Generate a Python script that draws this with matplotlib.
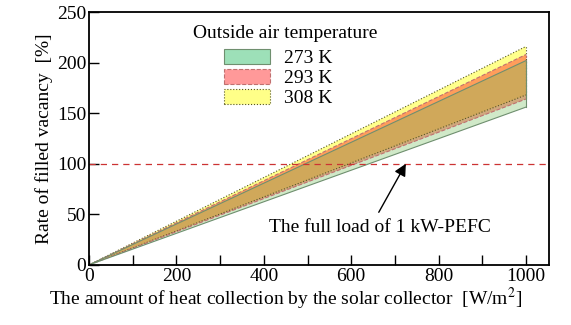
import matplotlib
matplotlib.use("Agg")
import matplotlib.pyplot as plt
import numpy as np
from matplotlib.patches import Patch

plt.rcParams['font.family'] = ['Liberation Serif', 'DejaVu Serif']
plt.rcParams['mathtext.fontset'] = 'stix'

# data
heat = [0, 1000]
labels = ['273 K', '293 K', '308 K']
lower_1000 = [156, 164, 168]
upper_1000 = [202, 208, 216]
full_load = 100
xticks = [0, 200, 400, 600, 800, 1000]
yticks = [0, 50, 100, 150, 200, 250]

faces = [(0.45, 0.75, 0.35, 0.33), (1.0, 0.3, 0.2, 0.55), (1.0, 1.0, 0.0, 0.45)]
edges = ['#6f8f6f', '#c07070', '#555522']
styles = ['-', '--', ':']
legend_faces = ['#9de0b8', '#ff9999', '#ffff88']
draw_order = [2, 1, 0]

fig = plt.figure(figsize=(5.71, 3.25), dpi=100)
ax = fig.add_axes([0.156, 0.185, 0.805, 0.778])

for i in draw_order:
    lo = [0, lower_1000[i]]
    hi = [0, upper_1000[i]]
    ax.fill_between(heat, lo, hi, facecolor=faces[i], edgecolor='none')
    ax.plot(heat, hi, color=edges[i], linestyle=styles[i], linewidth=0.8)
    ax.plot(heat, lo, color=edges[i], linestyle=styles[i], linewidth=0.8)
    ax.plot([heat[1], heat[1]], [lower_1000[i], upper_1000[i]], color=edges[i],
            linestyle=styles[i], linewidth=0.8)

ax.axhline(full_load, color='#cc3333', linestyle=(0, (5, 4)), linewidth=0.9)

ax.annotate('', xy=(725, full_load), xytext=(663, 52),
            arrowprops=dict(arrowstyle='-|>', color='black', lw=1.0,
                            mutation_scale=18, shrinkA=0, shrinkB=0))
ax.text(665, 37, 'The full load of 1 kW-PEFC', fontsize=14, ha='center', va='center')

ax.text(0.226, 0.917, 'Outside air temperature', transform=ax.transAxes,
        fontsize=14, ha='left', va='center')
handles = [Patch(facecolor=legend_faces[i], edgecolor=edges[i], linestyle=styles[i], linewidth=0.8)
           for i in range(3)]
leg = ax.legend(handles, labels, loc='upper left',
                bbox_to_anchor=(0.293, 0.855), frameon=False, fontsize=14,
                handlelength=2.4, handleheight=0.85, labelspacing=0.08, handletextpad=0.7,
                borderpad=0.0, borderaxespad=0.0)

ax.set_xlim(0, 1052)
ax.set_ylim(0, 250)
ax.set_xticks(xticks)
ax.set_xticks(np.arange(100, 1001, 200), minor=True)
ax.set_yticks(yticks)
ax.tick_params(direction='in', length=7, width=1, labelsize=14, top=False, right=False, pad=2)
ax.tick_params(which='minor', direction='in', length=7, width=1, top=False, right=False)
for s in ax.spines.values():
    s.set_linewidth(1.3)

ax.set_xlabel('The amount of heat collection by the solar collector  [W/m$^2$]', fontsize=14)
ax.xaxis.set_label_coords(0.428, -0.085)
ax.set_ylabel('Rate of filled vacancy  [%]', fontsize=14, labelpad=3)

fig.savefig('out.png', dpi=100)
